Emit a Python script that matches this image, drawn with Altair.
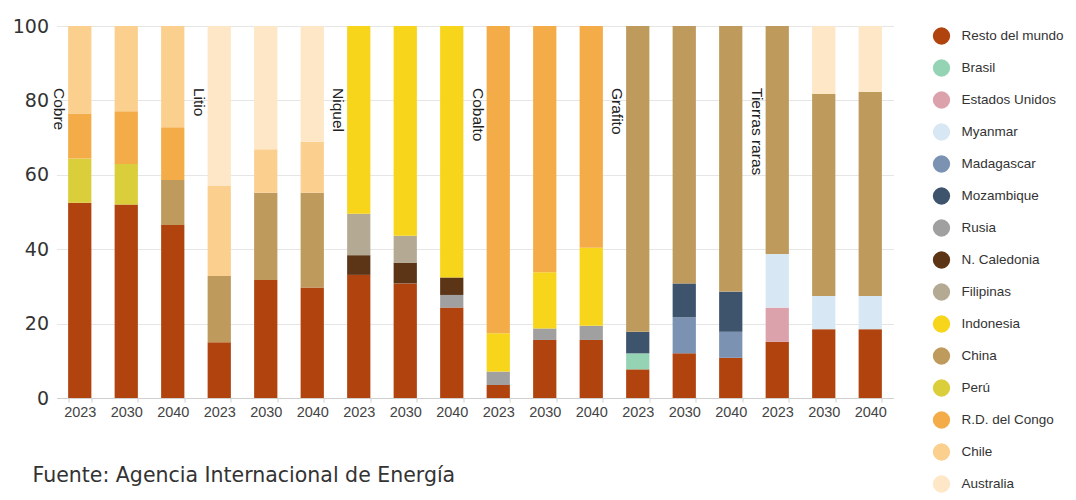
import altair as alt
import pandas as pd

minerals = ["Cobre", "Litio", "Niquel", "Cobalto", "Grafito", "Tierras raras"]
years = ["2023", "2030", "2040"]

countries = ["Resto del mundo", "Brasil", "Estados Unidos", "Myanmar", "Madagascar",
             "Mozambique", "Rusia", "N. Caledonia", "Filipinas", "Indonesia", "China",
             "Perú", "R.D. del Congo", "Chile", "Australia"]
colors = ["#B1430F", "#94D4B5", "#DCA2AC", "#D7E7F3", "#7B92B2",
          "#3E546D", "#A0A0A0", "#5B3516", "#B4AA94", "#F7D51B", "#BE9A5C",
          "#DACE3A", "#F4AC48", "#FBCF8E", "#FDE7C6"]

# shares (%) per bar: Cobre 23/30/40, Litio..., Niquel..., Cobalto..., Grafito..., Tierras raras...
resto      = [52.5, 52.0, 46.5, 15.0, 31.7, 29.7, 33.1, 30.8, 24.3, 3.5, 15.6, 15.6, 7.7, 12.0, 10.8, 15.1, 18.5, 18.5]
brasil     = [0, 0, 0, 0, 0, 0, 0, 0, 0, 0, 0, 0, 4.3, 0, 0, 0, 0, 0]
eeuu       = [0, 0, 0, 0, 0, 0, 0, 0, 0, 0, 0, 0, 0, 0, 0, 9.2, 0, 0]
myanmar    = [0, 0, 0, 0, 0, 0, 0, 0, 0, 0, 0, 0, 0, 0, 0, 14.4, 8.9, 8.9]
madagascar = [0, 0, 0, 0, 0, 0, 0, 0, 0, 0, 0, 0, 0, 9.7, 7.0, 0, 0, 0]
mozambique = [0, 0, 0, 0, 0, 0, 0, 0, 0, 0, 0, 0, 5.8, 9.1, 10.8, 0, 0, 0]
rusia      = [0, 0, 0, 0, 0, 0, 0, 0, 3.4, 3.6, 3.1, 3.8, 0, 0, 0, 0, 0, 0]
ncaledonia = [0, 0, 0, 0, 0, 0, 5.3, 5.6, 4.7, 0, 0, 0, 0, 0, 0, 0, 0, 0]
filipinas  = [0, 0, 0, 0, 0, 0, 11.1, 7.2, 0, 0, 0, 0, 0, 0, 0, 0, 0, 0]
indonesia  = [0, 0, 0, 0, 0, 0, 50.5, 56.4, 67.6, 10.3, 15.1, 21.0, 0, 0, 0, 0, 0, 0]
china      = [0, 0, 12.1, 17.8, 23.5, 25.5, 0, 0, 0, 0, 0, 0, 82.2, 69.2, 71.4, 61.3, 54.3, 54.9]
peru       = [11.9, 10.9, 0, 0, 0, 0, 0, 0, 0, 0, 0, 0, 0, 0, 0, 0, 0, 0]
congo      = [12.1, 14.2, 14.2, 0, 0, 0, 0, 0, 0, 82.6, 66.2, 59.6, 0, 0, 0, 0, 0, 0]
chile      = [23.5, 22.9, 27.2, 24.3, 11.7, 13.7, 0, 0, 0, 0, 0, 0, 0, 0, 0, 0, 0, 0]
australia  = [0, 0, 0, 42.9, 33.1, 31.1, 0, 0, 0, 0, 0, 0, 0, 0, 0, 0, 18.3, 17.7]

series = [resto, brasil, eeuu, myanmar, madagascar, mozambique, rusia, ncaledonia,
          filipinas, indonesia, china, peru, congo, chile, australia]

source_text = "Fuente:  Agencia Internacional de Energía"

keys = [f"{m}|{y}" for m in minerals for y in years]

rows = []
for ci, (c, vals) in enumerate(zip(countries, series)):
    for k, v in zip(keys, vals):
        if v > 0:
            rows.append({"key": k, "country": c, "idx": ci, "value": v})
df = pd.DataFrame(rows)

labels_df = pd.DataFrame({"mineral": minerals, "key": [f"{m}|{years[0]}" for m in minerals]})
src_df = pd.DataFrame({"t": [source_text]})

LIB = "Liberation Sans, Arial, Helvetica, sans-serif"
DJV = "DejaVu Sans, Verdana, sans-serif"

xscale = alt.Scale(domain=keys, paddingInner=0.5, paddingOuter=0.25)

bars = alt.Chart(df).mark_bar().encode(
    x=alt.X("key:N", scale=xscale, sort=keys, title=None,
            axis=alt.Axis(labelExpr="split(datum.label, '|')[1]", labelAngle=0,
                          labelFont=LIB, labelFontSize=14.5, labelColor="#444444",
                          labelPadding=3, tickBand="extent", tickSize=4,
                          tickColor="#d0d0d0", domainColor="#d0d0d0", grid=False)),
    y=alt.Y("value:Q", stack="zero", scale=alt.Scale(domain=[0, 100], nice=False),
            title=None,
            axis=alt.Axis(values=[0, 20, 40, 60, 80, 100], labelFont=DJV, labelFontSize=19,
                          labelColor="#333333", labelPadding=8, ticks=False, domain=False,
                          grid=True, gridColor="#e6e6e6")),
    color=alt.Color("country:N", scale=alt.Scale(domain=countries, range=colors),
                    legend=alt.Legend(title=None, orient="none", legendX=876, legendY=1,
                                      direction="vertical", symbolType="circle",
                                      symbolSize=300, symbolStrokeWidth=0,
                                      labelFont=LIB, labelFontSize=13.5,
                                      labelColor="#333333", labelOffset=11,
                                      rowPadding=14, padding=0, labelLimit=200)),
    order=alt.Order("idx:Q", sort="ascending"),
)

mlabels = alt.Chart(labels_df).mark_text(
    angle=90, align="left", baseline="middle", font=LIB, fontSize=15.5,
    color="#222222", xOffset=-9
).encode(
    x=alt.X("key:N", scale=xscale, sort=keys, bandPosition=0),
    y=alt.value(62),
    text="mineral:N",
)

src = alt.Chart(src_df).mark_text(
    align="left", baseline="middle", font=DJV, fontSize=20.5, color="#333333"
).encode(
    x=alt.value(-24),
    y=alt.value(450),
    text="t:N",
)

chart = alt.layer(bars, mlabels, src).properties(
    width=837, height=372,
    autosize=alt.AutoSizeParams(type="none"),
    padding={"left": 48.5, "top": 18, "right": 170, "bottom": 95},
).configure_view(stroke=None)

chart.save("out.html", embed_options={"renderer": "svg", "actions": False})
